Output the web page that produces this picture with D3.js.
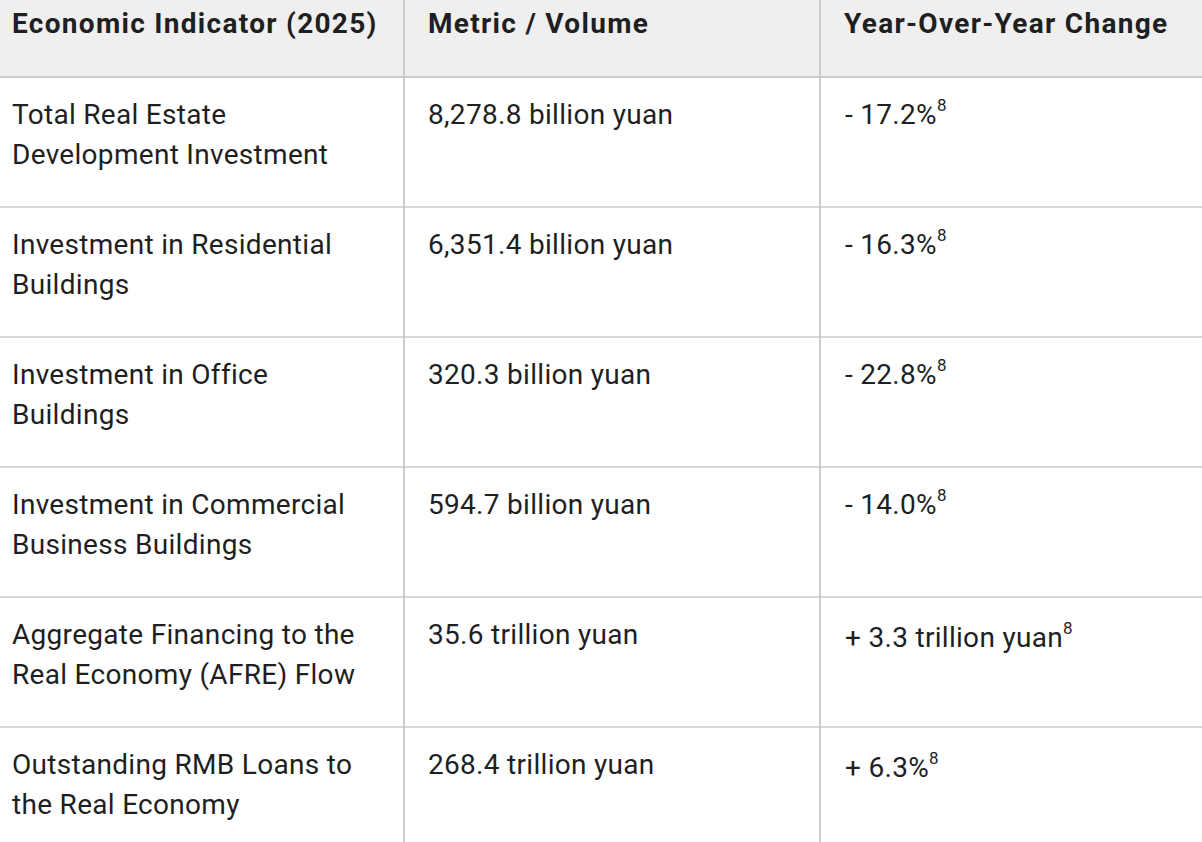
<!DOCTYPE html><html><head><meta charset="utf-8"><script src="https://cdn.jsdelivr.net/npm/d3@7"></script>
<style>body{margin:0;background:#fff}</style></head><body><svg id="c" width="1202" height="842"></svg>
<script>
const headers=["Economic Indicator (2025)","Metric / Volume","Year-Over-Year Change"];
const indicators=[["Total Real Estate","Development Investment"],["Investment in Residential","Buildings"],["Investment in Office","Buildings"],["Investment in Commercial","Business Buildings"],["Aggregate Financing to the","Real Economy (AFRE) Flow"],["Outstanding RMB Loans to","the Real Economy"]];
const metrics=["8,278.8 billion yuan","6,351.4 billion yuan","320.3 billion yuan","594.7 billion yuan","35.6 trillion yuan","268.4 trillion yuan"];
const changes=["- 17.2%","- 16.3%","- 22.8%","- 14.0%","+ 3.3 trillion yuan","+ 6.3%"];
const refs=["8","8","8","8","8","8"];
const svg=d3.select("#c");
const font="Roboto, 'Open Sans', sans-serif", col="#1f1f1f", line="#cccccc";
const colX=[0,404,820,1202];
const y=d3.scaleBand().domain(d3.range(6)).range([77,857]);
svg.append("rect").attr("x",0).attr("y",0).attr("width",1202).attr("height",77).attr("fill","#efefef");
headers.forEach((h,i)=>svg.append("text").attr("x",colX[i]+(i==0?12:24)).attr("y",33).attr("font-family",font).attr("font-weight","bold").attr("font-size",28).attr("letter-spacing",1.3).attr("fill",col).text(h));
svg.append("line").attr("x1",0).attr("x2",1202).attr("y1",77).attr("y2",77).attr("stroke",line).attr("stroke-width",2);
const body=s=>s.attr("font-family",font).attr("font-size",28).attr("letter-spacing",0.3).attr("fill",col);
d3.range(6).forEach(i=>{const t=y(i);
 if(i>0)svg.append("line").attr("x1",0).attr("x2",1202).attr("y1",t).attr("y2",t).attr("stroke",line).attr("stroke-width",1.5);
 indicators[i].forEach((s,j)=>body(svg.append("text")).attr("x",12).attr("y",t+47+j*40).text(s));
 body(svg.append("text")).attr("x",428).attr("y",t+47).text(metrics[i]);
 const tx=body(svg.append("text")).attr("x",845).attr("y",t+47+(i>=4?3:0));
 tx.append("tspan").text(changes[i]);
 tx.append("tspan").attr("dy",-13).attr("font-size",17).text(refs[i]);
});
[404,820].forEach(x=>svg.append("line").attr("x1",x).attr("x2",x).attr("y1",0).attr("y2",842).attr("stroke",line).attr("stroke-width",2));
</script></body></html>
